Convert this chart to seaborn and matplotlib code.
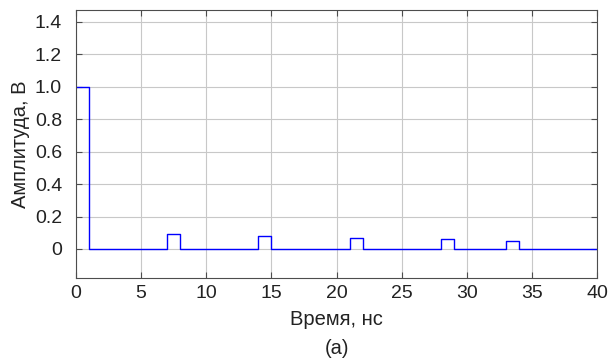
import numpy as np
import pandas as pd
import seaborn as sns
import matplotlib.pyplot as plt
from matplotlib.ticker import FuncFormatter

# Step signal: segment edges (ns) and amplitude on each segment (V)
edges = [0, 1, 7, 8, 14, 15, 21, 22, 28, 29, 33, 34, 40]
levels = [1.0, 0.0, 0.094, 0.0, 0.082, 0.0, 0.07, 0.0, 0.061, 0.0, 0.051, 0.0]

x_ticks = [0, 5, 10, 15, 20, 25, 30, 35, 40]
y_ticks = [0, 0.2, 0.4, 0.6, 0.8, 1.0, 1.2, 1.4]

# Build step vertices from the segment table
xs, ys = [], []
for i, lv in enumerate(levels):
    xs += [edges[i], edges[i + 1]]
    ys += [lv, lv]
df = pd.DataFrame({"t": xs, "a": ys})

sns.set_theme(style="white")
plt.rcParams["font.family"] = ["Liberation Sans", "DejaVu Sans"]

fig = plt.figure(figsize=(6.10, 3.62), dpi=100)
ax = fig.add_axes([76 / 610, 1 - 278 / 362, (597 - 76) / 610, (278 - 10) / 362])

sns.lineplot(data=df, x="t", y="a", ax=ax, color="#0000ff", linewidth=1.0,
             sort=False, estimator=None)

ax.set_xlim(0, 40)
ax.set_ylim(-0.179, 1.474)
ax.set_xticks(x_ticks)
ax.set_yticks(y_ticks)
ax.yaxis.set_major_formatter(FuncFormatter(lambda v, p: "0" if abs(v) < 1e-9 else f"{v:.1f}"))
ax.grid(True, color="#c8c8c8", linewidth=0.8)
ax.set_axisbelow(True)
for s in ax.spines.values():
    s.set_color("#4d4d4d")
    s.set_linewidth(0.8)
ax.tick_params(direction="in", length=4, width=0.8, colors="#4d4d4d",
               labelcolor="#222222", labelsize=14, top=True, right=True,
               bottom=True, left=True)
ax.tick_params(axis="y", pad=10)
ax.tick_params(axis="x", pad=5)
ax.set_xlabel("Время, нс", fontsize=14.5, color="#222222")
ax.set_ylabel("Амплитуда, В", fontsize=14.5, color="#222222")
ax.xaxis.set_label_coords(0.5, (278 - 310) / 268)
ax.yaxis.set_label_coords((30 - 76) / 521, 0.5)
fig.text((76 + 597) / 2 / 610, 1 - 348 / 362, "(a)", ha="center", va="center",
         fontsize=14.5, color="#222222")

fig.savefig("out.png", dpi=100)
